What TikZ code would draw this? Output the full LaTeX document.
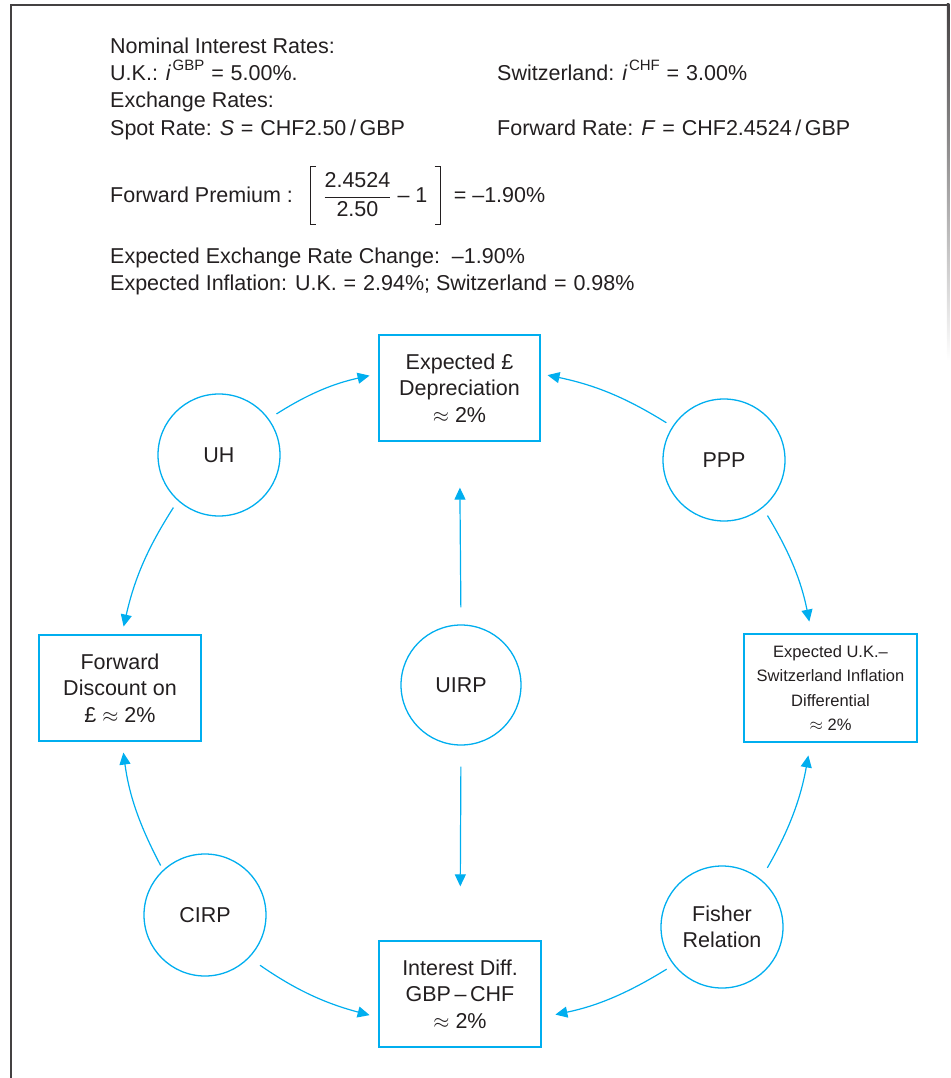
\documentclass[tikz,border=0pt]{standalone}
\usepackage{fontspec}
\setmainfont{Liberation Sans}
\usetikzlibrary{arrows.meta}
\definecolor{cy}{HTML}{00AEEF}
\definecolor{ink}{HTML}{231F20}
\newcommand{\supx}[1]{\kern1.5pt\raisebox{0.5em}{\fontsize{15}{15}\selectfont #1}}
\newcommand{\eqx}{\hspace{0.32em}=\hspace{0.32em}}
\begin{document}
\begin{tikzpicture}[x=1pt,y=1pt,
  txt/.style={anchor=base west, inner sep=0pt, text=ink, font=\fontsize{21.5}{26}\selectfont},
  boxn/.style={draw=cy, line width=1.3pt, rectangle, minimum width=161pt, minimum height=106pt, align=center, text=ink, inner sep=0pt, font=\fontsize{21.5}{26.5}\selectfont},
  circn/.style={draw=cy, line width=1.3pt, circle, minimum size=122pt, inner sep=0pt, align=center, text=ink, font=\fontsize{21.5}{26}\selectfont},
  arr/.style={draw=cy, line width=1.2pt, -{Triangle[length=12pt,width=11pt]}},
  brk/.style={draw=ink, line width=1pt}]
\useasboundingbox (0,0) rectangle (950,-1078);
% frame
\draw[line width=2.5pt, ink!85] (11,-1078) -- (11,-5) -- (948,-5);
\shade[top color=ink!85, bottom color=white] (946.8,-4) rectangle (949.3,-360);
% header text
\node[txt] (t1) at (110,-54) {Nominal Interest Rates:};
\node[txt] (t2) at (110,-81) {U.K.: \textit{i}\supx{GBP}\eqx 5.00\%.};
\node[txt] (t3) at (497,-81) {Switzerland: \textit{i}\supx{CHF}\eqx 3.00\%};
\node[txt] (t4) at (110,-108) {Exchange Rates:};
\node[txt] (t5) at (110,-136) {Spot Rate: \textit{S}\eqx CHF2.50\,/\,GBP};
\node[txt] (t6) at (497,-136) {Forward Rate: \textit{F}\eqx CHF2.4524\,/\,GBP};
\node[txt] (t7) at (110,-202) {Forward Premium :};
\node[txt] (fr) at ([xshift=30pt]t7.base east) {$\displaystyle\frac{\mbox{2.4524}}{\mbox{2.50}}$\mbox{ – 1}};
\draw[brk] ([shift={(-7pt,28pt)}]fr.west) -- ++(-6pt,0) -- ++(0,-58pt) -- ++(6pt,0);
\draw[brk] ([shift={(7pt,28pt)}]fr.east) -- ++(6pt,0) -- ++(0,-58pt) -- ++(-6pt,0);
\node[txt] (t7b) at ([xshift=26pt]fr.base east) {= –1.90\%};
\node[txt] (t8) at (110,-263) {Expected Exchange Rate Change:\ \ –1.90\%};
\node[txt] (t9) at (110,-290) {Expected Inflation: U.K.\eqx 2.94\%; Switzerland\eqx 0.98\%};
% boxes
\node[boxn] (exp) at (459.5,-388) {Expected £\\Depreciation\\$\approx$ 2\%};
\node[boxn, minimum width=162pt] (fd) at (120,-688) {Forward\\Discount on\\£ $\approx$ 2\%};
\node[boxn, minimum width=173pt, minimum height=108pt, font=\fontsize{16.5}{24.5}\selectfont] (uk) at (830.5,-688) {Expected U.K.–\\Switzerland Inflation\\Differential\\$\approx$ 2\%};
\node[boxn, minimum width=162pt] (id) at (460,-994) {Interest Diff.\\GBP\,–\,CHF\\$\approx$ 2\%};
% circles
\node[circn] (uh) at (219,-455) {UH};
\node[circn] (ppp) at (724,-460) {PPP};
\node[circn, minimum size=120pt] (uirp) at (461,-685) {UIRP};
\node[circn] (cirp) at (205,-915) {CIRP};
\node[circn] (fisher) at (722,-927) {Fisher\\Relation};
% arrows
\draw[arr, shorten <=9pt, shorten >=9pt] (uh.36) to[bend left=10] (exp.170);
\draw[arr, shorten <=7pt, shorten >=7pt] (ppp.147) to[bend right=10] (exp.10);
\draw[arr, shorten <=8pt, shorten >=8pt] (uh.228) to[bend right=10] (fd.88);
\draw[arr, shorten <=9pt, shorten >=12pt] (ppp.-51) to[bend left=10] (uk.109);
\draw[arr, shorten <=5pt, shorten >=11pt] (cirp.133) to[bend left=10] (fd.-88);
\draw[arr, shorten <=13pt, shorten >=13pt] (fisher.51) to[bend right=10] (uk.250);
\draw[arr, shorten <=13pt, shorten >=9pt] (cirp.-44) to[bend right=10] (id.196);
\draw[arr, shorten <=8pt, shorten >=14pt] (fisher.218) to[bend left=10] (id.-16.5);
\draw[arr, shorten <=17pt, shorten >=46pt] (uirp.north) -- (exp.south);
\draw[arr, shorten <=21pt, shorten >=54pt] (uirp.south) -- (id.north);
\end{tikzpicture}
\end{document}
